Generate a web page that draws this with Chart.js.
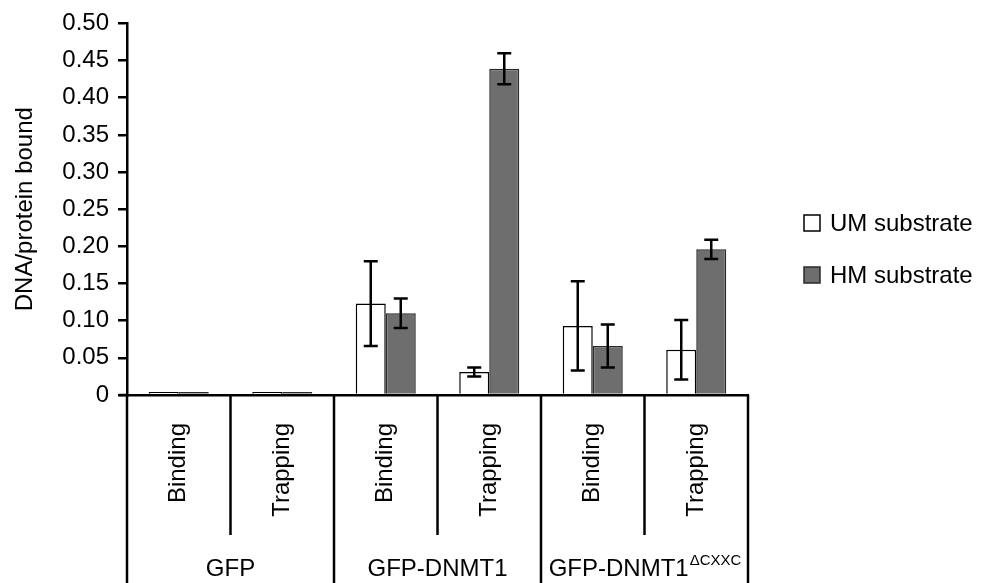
<!DOCTYPE html>
<html>
<head>
<meta charset="utf-8">
<script src="https://cdn.jsdelivr.net/npm/chart.js@4.4.1/dist/chart.umd.min.js"></script>
<style>
html,body{margin:0;padding:0;background:#fff;}
canvas{display:block;}
</style>
</head>
<body>
<canvas id="c" width="981" height="583"></canvas>
<script>
// ---- data ----
const categories = ['Binding', 'Trapping', 'Binding', 'Trapping', 'Binding', 'Trapping'];
const groupNames = ['GFP', 'GFP-DNMT1', 'GFP-DNMT1'];
const groupSuperscripts = ['', '', '\u0394CXXC'];
const groupSizes = [2, 2, 2];
const seriesNames = ['UM substrate', 'HM substrate'];
const umValues = [0.004, 0.004, 0.123, 0.031, 0.093, 0.061];
const umErrors = [0, 0, 0.057, 0.006, 0.060, 0.040];
const hmValues = [0.004, 0.004, 0.110, 0.439, 0.066, 0.196];
const hmErrors = [0, 0, 0.020, 0.021, 0.029, 0.013];
const yMin = 0, yMax = 0.5, yStep = 0.05;
const yTitle = 'DNA/protein bound';

const FONT = "'Liberation Sans', Arial, Helvetica, sans-serif";
const errorSets = [umErrors, hmErrors];

const tablePlugin = {
  id: 'tablePlugin',
  afterDatasetsDraw(chart) {
    const ctx = chart.ctx;
    const y = chart.scales.y;
    ctx.save();
    ctx.strokeStyle = '#000';
    ctx.lineWidth = 2.5;
    chart.data.datasets.forEach((ds, di) => {
      const meta = chart.getDatasetMeta(di);
      meta.data.forEach((bar, i) => {
        const e = errorSets[di][i];
        if (!e) return;
        const v = ds.data[i];
        const yt = y.getPixelForValue(v + e);
        const yb = y.getPixelForValue(v - e);
        const cx = bar.x, cap = 7;
        ctx.beginPath();
        ctx.moveTo(cx, yt); ctx.lineTo(cx, yb);
        ctx.moveTo(cx - cap, yt); ctx.lineTo(cx + cap, yt);
        ctx.moveTo(cx - cap, yb); ctx.lineTo(cx + cap, yb);
        ctx.stroke();
      });
    });
    ctx.restore();
  },
  afterDraw(chart) {
    const ctx = chart.ctx;
    const x = chart.scales.x;
    const area = chart.chartArea;
    const H = chart.height;
    const base = area.bottom;
    const n = categories.length;
    const edge = (i) => {
      if (i <= 0) return area.left;
      if (i >= n) return area.right;
      return (x.getPixelForValue(i - 1) + x.getPixelForValue(i)) / 2;
    };
    ctx.save();
    ctx.strokeStyle = '#000';
    ctx.lineWidth = 2.5;
    // short extension of the baseline to the left of the axis
    ctx.beginPath();
    ctx.moveTo(area.left - 8, base);
    ctx.lineTo(area.left, base);
    ctx.stroke();
    // separators
    let idx = 0;
    const groupEdges = [0];
    groupSizes.forEach(s => { idx += s; groupEdges.push(idx); });
    for (let i = 0; i <= n; i++) {
      const isGroup = groupEdges.includes(i);
      const px = edge(i);
      ctx.beginPath();
      ctx.moveTo(px, base);
      ctx.lineTo(px, isGroup ? H : 535);
      ctx.stroke();
    }
    // group labels
    ctx.fillStyle = '#000';
    ctx.textBaseline = 'alphabetic';
    groupNames.forEach((g, gi) => {
      const l = edge(groupEdges[gi]), r = edge(groupEdges[gi + 1]);
      const cx = (l + r) / 2;
      ctx.font = '24px ' + FONT;
      const w1 = ctx.measureText(g).width;
      let w2 = 0;
      const sup = groupSuperscripts[gi];
      if (sup) { ctx.font = '15px ' + FONT; w2 = ctx.measureText(sup).width; }
      const start = cx - (w1 + w2) / 2;
      ctx.font = '24px ' + FONT;
      ctx.textAlign = 'left';
      ctx.fillText(g, start, 576);
      if (sup) { ctx.font = '15px ' + FONT; ctx.fillText(sup, start + w1 + 1, 565); }
    });
    // legend
    const lx = 804, ly = [223, 275];
    chart.data.datasets.forEach((ds, di) => {
      ctx.fillStyle = ds.backgroundColor;
      ctx.fillRect(lx, ly[di] - 8, 16, 16);
      ctx.lineWidth = 1.5;
      ctx.strokeStyle = ds.borderColor;
      ctx.strokeRect(lx, ly[di] - 8, 16, 16);
      ctx.fillStyle = '#000';
      ctx.font = '24px ' + FONT;
      ctx.textAlign = 'left';
      ctx.textBaseline = 'middle';
      ctx.fillText(ds.label, 830, ly[di] + 1);
    });
    ctx.restore();
  }
};

new Chart(document.getElementById('c'), {
  type: 'bar',
  data: {
    labels: categories,
    datasets: [
      { label: seriesNames[0], data: umValues, backgroundColor: '#ffffff', borderColor: '#000000', borderWidth: 1.5 },
      { label: seriesNames[1], data: hmValues, backgroundColor: '#6e6e6e', borderColor: '#2a2a2a', borderWidth: 1.5 }
    ]
  },
  options: {
    responsive: false,
    animation: false,
    devicePixelRatio: 1,
    layout: { padding: { top: 21, right: 233, left: 0, bottom: 0 } },
    datasets: { bar: { categoryPercentage: 0.58, barPercentage: 1.0, borderSkipped: 'bottom' } },
    plugins: { legend: { display: false }, tooltip: { enabled: false } },
    scales: {
      x: {
        type: 'category',
        offset: true,
        afterFit(s) { s.height = 188; },
        grid: { display: false, drawTicks: false },
        border: { display: true, color: '#000', width: 2.5 },
        ticks: {
          autoSkip: false, minRotation: 90, maxRotation: 90, padding: 28,
          color: '#000', font: { family: FONT, size: 24 }
        }
      },
      y: {
        min: yMin, max: yMax,
        afterFit(s) { s.width = 127; },
        grid: { display: true, drawOnChartArea: false, drawTicks: true, tickLength: 9, color: '#000', lineWidth: 2.5 },
        border: { display: true, color: '#000', width: 2.5 },
        ticks: {
          stepSize: yStep, padding: 9, color: '#000',
          font: { family: FONT, size: 24 },
          callback: (v) => (Math.abs(v) < 1e-9 ? '0' : Number(v).toFixed(2))
        },
        title: { display: true, text: yTitle, color: '#000', font: { family: FONT, size: 24 }, padding: { top: 11, bottom: 0 } }
      }
    }
  },
  plugins: [tablePlugin]
});
</script>
</body>
</html>
